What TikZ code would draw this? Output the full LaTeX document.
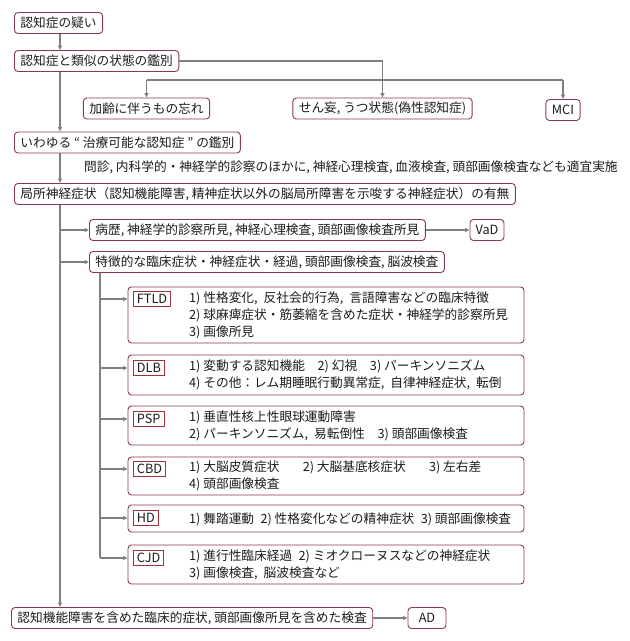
\documentclass[tikz,border=0pt]{standalone}
\usepackage{fontspec}
\setmainfont{Noto Sans CJK JP}
\usetikzlibrary{arrows.meta, positioning}

\definecolor{boxline}{RGB}{138,58,74}
\definecolor{tagline}{RGB}{160,48,60}
\definecolor{wiregray}{RGB}{128,128,128}
\definecolor{ink}{RGB}{30,26,26}

\newcommand{\cma}{,\hspace{6pt}}

\begin{document}
\begin{tikzpicture}[
    x=1pt, y=-1pt,
    >={Triangle[length=4.5pt, width=4pt]},
    every node/.style={font=\fontsize{12.7}{17}\selectfont, text=ink},
    stepbox/.style={draw=boxline, line width=0.9pt, rounded corners=3.5pt, minimum height=21pt, inner xsep=6pt, inner ysep=2pt},
    itembox/.style={draw=boxline, line width=0.9pt, rounded corners=3.5pt, minimum width=396pt},
    tag/.style={draw=tagline, line width=0.9pt, anchor=west, inner xsep=3.5pt, inner ysep=1.5pt, minimum height=15.5pt, font=\fontsize{12.7}{14}\selectfont},
    itemtext/.style={anchor=west, align=left, inner sep=0pt},
    note/.style={anchor=west, inner sep=0pt},
    wire/.style={draw=wiregray, line width=1.1pt},
    link/.style={wire, ->}
]
\useasboundingbox (0,0) rectangle (630,641);

% main column
\node[stepbox, anchor=west] (doubt) at (14,23) {認知症の疑い};
\node[stepbox, anchor=west] (similar) at (14,61) {認知症と類似の状態の鑑別};
\node[stepbox] (aging) at (146.5,108.5) {加齢に伴うもの忘れ};
\node[stepbox] (delirium) at (382.5,108.5) {せん妄, うつ状態(偽性認知症)};
\node[stepbox] (mci) at (563,110) {MCI};
\node[stepbox, anchor=west] (treatable) at (14,142.5) {いわゆる “ 治療可能な認知症 ” の鑑別};
\node[note] (exam) at (84,167) {問診, 内科学的・神経学的診察のほかに, 神経心理検査, 血液検査, 頭部画像検査なども適宜実施};
\node[stepbox, anchor=west] (focal) at (14,194) {局所神経症状（認知機能障害, 精神症状以外の脳局所障害を示唆する神経症状）の有無};
\node[stepbox, anchor=west] (history) at (89,230) {病歴, 神経学的診察所見, 神経心理検査, 頭部画像検査所見};
\node[stepbox, minimum width=34pt, inner xsep=4pt] (vad) at (487,230) {VaD};
\node[stepbox, anchor=west] (feature) at (89,262) {特徴的な臨床症状・神経症状・経過, 頭部画像検査, 脳波検査};
\node[stepbox, anchor=west] (clinical) at (11,618) {認知機能障害を含めた臨床的症状, 頭部画像所見を含めた検査};
\node[stepbox, minimum width=38pt, inner xsep=4pt] (ad) at (427,618) {AD};

% disease boxes
\node[itembox, minimum height=56pt] (ftld) at (326,315) {};
\node[tag] (ftldtag) at (133,299) {FTLD};
\node[itemtext] (ftldtext) at (189,315) {1) 性格変化\cma 反社会的行為\cma 言語障害などの臨床特徴\\2) 球麻痺症状・筋萎縮を含めた症状・神経学的診察所見\\3) 画像所見};

\node[itembox, minimum height=40pt] (dlb) at (326,375) {};
\node[tag] (dlbtag) at (133,368) {DLB};
\node[itemtext] (dlbtext) at (189,375) {1) 変動する認知機能\quad 2) 幻視\quad 3) パーキンソニズム\\4) その他：レム期睡眠行動異常症\cma 自律神経症状\cma 転倒};

\node[itembox, minimum height=39pt] (psp) at (326,425.5) {};
\node[tag] (psptag) at (133,419) {PSP};
\node[itemtext] (psptext) at (189,426) {1) 垂直性核上性眼球運動障害\\2) パーキンソニズム\cma 易転倒性\quad 3) 頭部画像検査};

\node[itembox, minimum height=38pt] (cbd) at (326,476) {};
\node[tag] (cbdtag) at (133,469) {CBD};
\node[itemtext] (cbdtext) at (189,476) {1) 大脳皮質症状\hspace{1.6em} 2) 大脳基底核症状\hspace{1.6em} 3) 左右差\\4) 頭部画像検査};

\node[itembox, minimum height=27pt] (hd) at (326,518.5) {};
\node[tag] (hdtag) at (133,518) {HD};
\node[itemtext] (hdtext) at (189,519) {1) 舞踏運動\enspace 2) 性格変化などの精神症状\enspace 3) 頭部画像検査};

\node[itembox, minimum height=39pt] (cjd) at (326,564.5) {};
\node[tag] (cjdtag) at (133,558) {CJD};
\node[itemtext] (cjdtext) at (189,565) {1) 進行性臨床経過\enspace 2) ミオクローヌスなどの神経症状\\3) 画像検査\cma 脳波検査など};

\coordinate (trunk) at (60,0);
\coordinate (split) at (0,80);
\coordinate (sub) at (100,0);

% connectors
\draw[link] (trunk |- doubt.south) -- (trunk |- similar.north);
\draw[link] (trunk |- similar.south) -- (trunk |- treatable.north);
\draw[link] (trunk |- treatable.south) -- (trunk |- focal.north);
\draw[link] (trunk |- focal.south) -- (trunk |- clinical.north);

\draw[link] (similar.east) -| (delirium.north);
\draw[wire] (aging.north |- split) -- (mci.north |- split);
\draw[link] (aging.north |- split) -- (aging.north);
\draw[link] (mci.north |- split) -- (mci.north);

\draw[link] (trunk |- history) -- (history.west);
\draw[link] (history.east) -- (vad.west);
\draw[link] (trunk |- feature) -- (feature.west);

\draw[wire] (sub |- feature.south) -- (sub |- cjdtag);
\draw[link] (sub |- ftldtag) -- (ftld.west |- ftldtag);
\draw[link] (sub |- dlbtag) -- (dlb.west |- dlbtag);
\draw[link] (sub |- psptag) -- (psp.west |- psptag);
\draw[link] (sub |- cbdtag) -- (cbd.west |- cbdtag);
\draw[link] (sub |- hdtag) -- (hd.west |- hdtag);
\draw[link] (sub |- cjdtag) -- (cjd.west |- cjdtag);

\draw[link] (clinical.east) -- (ad.west);

\end{tikzpicture}
\end{document}
